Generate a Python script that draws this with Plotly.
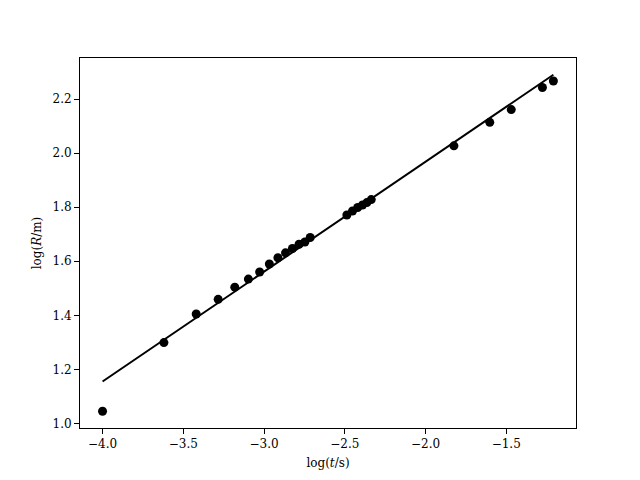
import plotly.graph_objects as go

# blast wave radius vs time (log10 values)
log_t = [-4.0, -3.620, -3.420, -3.284, -3.181, -3.097, -3.027, -2.967, -2.914,
         -2.867, -2.824, -2.783, -2.747, -2.714, -2.487, -2.452, -2.420, -2.390,
         -2.363, -2.336, -1.824, -1.602, -1.469, -1.276, -1.208]
log_R = [1.045, 1.299, 1.405, 1.459, 1.504, 1.534, 1.560, 1.590, 1.613,
         1.631, 1.647, 1.663, 1.671, 1.688, 1.771, 1.786, 1.799, 1.808,
         1.817, 1.828, 2.027, 2.114, 2.161, 2.243, 2.267]

# fitted line endpoints
fit_t = [-4.0, -1.208]
fit_R = [1.155, 2.290]

x_ticks = [-4.0, -3.5, -3.0, -2.5, -2.0, -1.5]
y_ticks = [1.0, 1.2, 1.4, 1.6, 1.8, 2.0, 2.2]

font = dict(family="DejaVu Serif", size=12, color="black")

fig = go.Figure()
fig.add_trace(go.Scatter(x=log_t, y=log_R, mode="markers",
                         marker=dict(color="black", size=9), showlegend=False))
fig.add_trace(go.Scatter(x=fit_t, y=fit_R, mode="lines",
                         line=dict(color="black", width=2), showlegend=False))

axis_style = dict(showgrid=False, zeroline=False, showline=True, mirror=True,
                  linecolor="black", linewidth=1, ticks="outside", ticklen=5,
                  tickcolor="black", tickfont=font, tickformat=".1f")

fig.update_xaxes(range=[-4.1396, -1.068], tickvals=x_ticks,
                 title=dict(text="log(<i>t</i>/s)", font=font, standoff=8),
                 **axis_style)
fig.update_yaxes(range=[0.983, 2.352], tickvals=y_ticks,
                 title=dict(text="log(<i>R</i>/m)", font=font, standoff=8),
                 **axis_style)

# page body adds ~8px offset, so shrink and shift the figure to compensate
fig.update_layout(width=632, height=472, plot_bgcolor="white", paper_bgcolor="white",
                  margin=dict(l=72, r=64, t=50, b=45), font=font)
fig.write_html("out.html")
